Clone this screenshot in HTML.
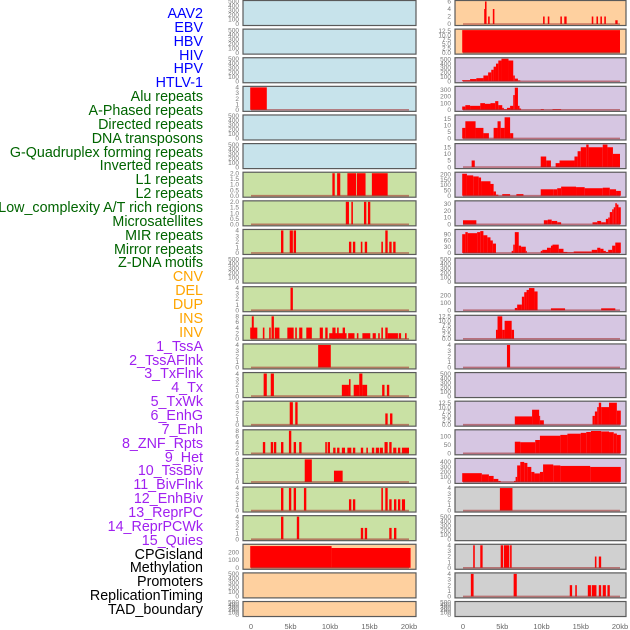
<!DOCTYPE html>
<html><head><meta charset="utf-8"><style>
body{margin:0;background:#fff;width:630px;height:630px;overflow:hidden;position:relative;font-family:"Liberation Sans",sans-serif}
.lab{position:absolute;right:427px;font-size:14.3px;line-height:14px;white-space:nowrap}
svg{position:absolute;left:0;top:0}
</style></head><body>
<div id="labels"></div>
<svg id="chart" width="630" height="630"></svg>
<script>
const labelNames=["AAV2","EBV","HBV","HIV","HPV","HTLV-1","Alu repeats","A-Phased repeats","Directed repeats","DNA transposons","G-Quadruplex forming repeats","Inverted repeats","L1 repeats","L2 repeats","Low_complexity A/T rich regions","Microsatellites","MIR repeats","Mirror repeats","Z-DNA motifs","CNV","DEL","DUP","INS","INV","1_TssA","2_TssAFlnk","3_TxFlnk","4_Tx","5_TxWk","6_EnhG","7_Enh","8_ZNF_Rpts","9_Het","10_TssBiv","11_BivFlnk","12_EnhBiv","13_ReprPC","14_ReprPCWk","15_Quies","CPGisland","Methylation","Promoters","ReplicationTiming","TAD_boundary"];
const labelGroups=[6,13,5,15,5];
const groupColors=["#0000ff","#006400","#ffa500","#a020f0","#000000"];
const B=[0,100,200,300,400,500], T4=[0,1,2,3,4], T2=["0.0","0.5","1.0","1.5","2.0"], T8=[0,2,4,6,8], T125=["0.0","2.5","5.0","7.5","10.0","12.5"];
const leftBg=["b","b","b","b","b","b","g","g","g","g","g","g","g","g","g","g","g","g","g","o","o","o"];
const rightBg=["o","o","p","p","p","p","p","p","p","p","p","p","p","p","p","p","p","y","y","y","y","y"];
const leftTicks=[B,B,B,T4,B,B,T2,T2,T4,B,T4,T8,T4,T4,T4,T8,T4,T4,T4,[0,100,200],B,B];
const leftMax=[500,500,500,4,500,500,2,2,4,500,4,8,4,4,4,8,4,4,4,290,500,500];
const leftBars=[[],[],[],[[-0.1,2.0,4]],[],[],
[[10.3,10.6,2],[10.9,11.3,2],[12.2,13.3,2],[13.4,14.5,2],[15.3,17.3,2]],
[[12.0,12.4,2],[12.7,12.9,2],[14.3,14.6,2],[14.8,15.1,2]],
[[3.8,4.1,4],[4.9,5.3,4],[5.4,5.7,4],[12.4,12.7,2],[12.9,13.2,2],[13.9,14.1,2],[14.4,14.7,2],[16.5,16.7,2],[17.0,17.3,4],[17.5,17.8,2],[18.0,18.3,2]],
[],
[[5.0,5.3,4]],
[[-0.1,0.8,4],[0.1,0.35,8],[1.5,1.7,4],[2.3,2.5,4],[2.6,2.9,8],[3.0,3.6,4],[4.6,5.4,4],[5.6,5.8,4],[6.1,6.5,4],[7.0,7.7,4],[8.7,9.1,4],[9.4,9.7,4],[9.9,12.1,2],[10.3,10.7,4],[10.9,11.1,4],[11.6,11.9,4],[12.3,13.1,2],[13.4,13.6,2],[14.1,15.1,2],[15.4,15.8,2],[16.1,16.3,2],[16.5,16.7,4],[17.0,17.3,4],[17.3,18.6,2],[18.7,19.0,2],[19.5,19.7,2]],
[[8.5,10.1,4]],
[[1.6,2.0,4],[2.5,2.9,4],[11.5,12.4,2],[12.4,12.6,3],[13.0,13.7,2],[13.7,14.1,4],[14.1,14.7,2],[16.6,16.9,2],[17.2,17.5,2]],
[[4.9,5.3,4],[5.6,5.9,4],[17.0,17.3,2],[17.6,17.9,2]],
[[1.5,1.8,4],[2.5,2.8,4],[2.9,3.2,4],[3.8,4.1,4],[4.8,5.1,8],[5.4,5.7,4],[6.1,6.4,4],[9.4,9.6,4],[9.7,10.0,4],[10.4,10.7,2],[10.9,11.2,2],[11.5,11.9,2],[12.2,12.7,2],[12.9,13.2,2],[13.9,14.2,2],[14.6,14.8,2],[15.3,15.6,2],[15.8,16.2,2],[16.3,16.7,2],[16.9,17.3,4],[17.5,17.8,4],[18.0,18.4,2],[18.6,18.9,2],[19.1,20.0,2]],
[[6.8,7.7,4],[10.5,11.6,2]],
[[3.8,4.1,4],[4.8,5.1,4],[5.4,5.7,4],[6.7,7.0,4],[12.4,12.7,2],[12.9,13.2,2],[16.5,16.7,4],[17.0,17.3,4],[17.5,17.8,2],[18.1,18.4,2],[18.6,18.9,2],[19.1,19.5,2]],
[[3.8,4.1,4],[5.8,6.1,4],[13.9,14.2,2],[14.4,14.7,2],[17.5,17.8,2],[18.1,18.4,2]],
[[-0.1,10.2,280],[10.2,20.2,255]],
[],[]];
const rightTicks=[[0,2,4,6],T125,B,[0,100,200,300],[0,5,10,15],[0,5,10,15],[0,50,100,150,200],[0,10,20,30],[0,30,60,90],B,[0,100,200],T125,T4,B,T125,[0,50,100],[0,100,200,300,400],T4,B,T4,T4,B];
const rightMax=[6,13,510,335,17,17,210,33,108,500,300,12.5,4,500,12.8,132,450,4,500,4,4,500];
const rightBars=[
[[2.7,2.85,4],[2.8,3.0,6],[3.2,3.4,2],[3.8,4.0,4],[10.2,10.4,2],[10.8,11.0,2],[12.4,12.6,2],[12.9,13.2,2],[16.4,16.6,2],[17.0,17.2,2],[17.5,17.7,2],[18.0,18.2,2],[19.4,19.7,1]],
[[-0.1,20.0,13]],
[[-0.1,0.9,25],[0.9,1.7,50],[1.7,2.6,70],[2.6,3.2,130],[3.2,3.6,200],[3.6,3.9,260],[3.9,4.2,330],[4.2,4.5,400],[4.5,4.9,470],[4.9,5.8,510],[5.8,6.4,470],[6.4,6.6,130],[6.6,7.0,60],[7.0,7.3,20]],
[[-0.1,0.3,50],[0.3,0.9,70],[0.9,2.2,60],[2.2,2.8,100],[2.8,3.5,90],[3.5,4.1,100],[4.1,4.5,130],[4.5,5.0,70],[5.0,5.2,30],[5.2,5.6,10],[5.6,6.0,30],[6.0,6.4,60],[6.4,6.6,220],[6.6,7.0,330],[7.0,7.2,60],[7.2,7.4,20],[9.9,10.3,10],[11.4,12.5,10]],
[[-0.1,0.3,8],[0.3,1.6,13],[1.6,2.6,8],[2.6,3.3,4],[3.9,4.4,8],[4.4,4.8,13],[4.8,5.3,8],[5.3,6.0,16],[6.0,6.4,4]],
[[1.1,1.5,5],[9.9,10.6,8],[10.6,11.2,5],[11.8,12.3,3],[12.3,14.2,5],[14.2,14.6,8],[14.6,15.0,12],[15.0,15.7,15],[15.7,16.0,17],[16.0,17.8,15],[17.8,18.4,17],[18.4,19.1,15],[19.1,20.0,10]],
[[-0.1,0.5,205],[0.5,1.3,190],[1.3,2.0,180],[2.0,2.3,170],[2.3,3.5,135],[3.5,3.9,110],[3.9,4.2,40],[4.2,4.5,10],[5.0,6.0,15],[6.8,7.7,15],[9.9,11.5,60],[11.5,12.0,60],[12.0,12.5,70],[12.5,14.4,85],[14.4,15.5,80],[15.5,17.8,70],[17.8,18.7,75],[18.7,19.5,60],[19.5,20.1,45]],
[[0,1.7,6],[10.3,10.8,6],[10.8,11.3,7],[11.3,12.0,5],[12.0,12.5,3],[16.5,17.1,3],[17.1,17.6,5],[17.6,18.2,3],[18.2,18.5,8],[18.5,18.7,10],[18.7,19.0,18],[19.0,19.2,22],[19.2,19.4,25],[19.4,19.6,31],[19.6,19.8,29],[19.8,20.1,25]],
[[-0.1,0.3,90],[0.3,0.6,100],[0.6,1.8,95],[1.8,2.2,100],[2.2,2.6,105],[2.6,3.1,85],[3.1,3.5,75],[3.5,3.8,60],[3.8,4.2,45],[6.2,6.4,10],[6.4,6.6,40],[6.6,7.1,100],[7.1,7.4,35],[7.4,8.0,30],[8.0,8.1,10],[9.9,10.1,10],[10.1,10.7,15],[10.7,11.2,25],[11.2,11.4,35],[11.4,12.2,40],[12.2,12.8,20],[12.8,13.3,5],[13.3,14.1,3],[14.1,16.4,7],[16.4,17.1,15],[17.1,17.5,25],[17.5,17.9,20],[17.9,18.2,10],[18.2,18.5,5],[18.5,19.0,15],[19.0,19.4,35],[19.4,20.1,50]],
[],
[[6.6,6.9,30],[6.9,7.5,75],[7.5,7.8,180],[7.8,8.1,240],[8.1,8.4,270],[8.4,9.1,295],[9.1,9.5,250],[11.2,13.0,25],[17.6,19.4,25]],
[[4.2,4.4,5],[4.4,5.0,12.5],[5.0,5.3,5],[5.3,6.2,10],[6.2,6.5,5]],
[[5.6,6.0,4]],
[],
[[6.6,8.8,4.7],[8.8,9.7,8.5],[9.7,9.8,5],[9.8,10.3,2.5],[16.5,16.8,5],[16.8,17.1,7.5],[17.1,17.3,10],[17.3,17.6,12.5],[17.6,18.6,10],[18.6,19.6,12.5],[19.6,20.1,8]],
[[6.6,7.3,68],[7.3,9.2,65],[9.2,9.8,78],[9.8,12.4,103],[12.4,13.3,108],[13.3,15.0,115],[15.0,15.7,120],[15.7,16.3,125],[16.3,17.6,131],[17.6,18.6,128],[18.6,19.2,124],[19.2,19.6,116],[19.6,20.1,108]],
[[-0.1,2.4,175],[2.4,3.3,150],[3.3,3.9,120],[3.9,4.5,60],[4.5,4.8,20],[6.5,6.7,20],[6.7,6.9,100],[6.9,7.3,330],[7.3,7.8,400],[7.8,8.2,380],[8.2,8.7,300],[8.7,9.1,200],[9.1,9.8,170],[9.8,10.2,200],[10.2,11.5,350],[11.5,12.4,330],[12.4,16.2,320],[16.2,20.1,300]],
[[4.7,6.3,4]],
[],
[[1.3,1.5,4],[2.2,2.5,4],[4.8,5.1,4],[5.2,5.9,4],[6.0,6.2,4],[16.8,17.0,2],[17.3,17.6,2]],
[[1.0,1.35,4],[6.45,6.85,4],[13.6,13.9,2],[14.3,14.5,2],[15.9,16.3,2],[16.4,17.0,2],[17.3,17.6,2],[17.8,18.2,2],[18.4,18.7,2]],
[]];
const xTicks=[0,5,10,15,20];
const xTickLabels=["0","5kb","10kb","15kb","20kb"];

const bgCol={b:"#c7e3eb",g:"#c9e1a4",o:"#fed09f",p:"#d6c6e2",y:"#d0d0d0"};
const NS="http://www.w3.org/2000/svg";
const svg=document.getElementById("chart");
function mk(tag,attrs,parent){const e=document.createElementNS(NS,tag);for(const k in attrs)e.setAttribute(k,attrs[k]);(parent||svg).appendChild(e);return e;}

const labDiv=document.getElementById("labels");
let li=0;
labelGroups.forEach((n,g)=>{for(let k=0;k<n;k++){const d=document.createElement("div");d.className="lab";d.textContent=labelNames[li];d.style.top=(15+li*13.86-8)+"px";d.style.color=groupColors[g];


labDiv.appendChild(d);li++;}});

const cols=[{x0:243,w:173,zero:251,s:7.9,tx:239,bars:leftBars,max:leftMax,ticks:leftTicks,bg:leftBg,side:"left"},
{x0:455,w:171,zero:463,s:7.85,tx:451,bars:rightBars,max:rightMax,ticks:rightTicks,bg:rightBg,side:"right"}];
cols.forEach(c=>{
 const xs=kb=>c.zero+kb*c.s;
 for(let i=0;i<22;i++){
  const top=0.5+28.62*i, h=(i==21?15:25);
  const g=mk("g",{});
  
  
  const r=mk("rect",{x:c.x0,y:top,width:c.w,height:h,fill:bgCol[c.bg[i]],stroke:"#5a5a5a","stroke-width":1.2},g);
  
  
  const M=c.max[i];
  const ys=v=>top+h-1.5-v/M*(h-2.5);
  c.ticks[i].forEach(t=>{const v=parseFloat(t);
   const tt=mk("text",{x:c.tx,y:ys(v)+2.2,"font-size":6.5,fill:"#777","text-anchor":"end","font-family":"Liberation Sans, sans-serif"},g);
   tt.textContent=String(t);
   
   });
  const bars=c.bars[i];
  bars.forEach(b=>{
   const x1=xs(b[0]),x2=xs(b[1]);
   const br=mk("rect",{x:x1,y:ys(b[2]),width:Math.max(x2-x1,1),height:ys(0)-ys(b[2]),fill:"#ff0000"},g);
   
   });
  if(bars.length){const bl=mk("line",{x1:xs(0),x2:xs(20),y1:ys(0),y2:ys(0),stroke:"rgba(160,40,40,0.55)","stroke-width":1.6},g);
   
   }
 }
 xTicks.forEach((t,k)=>{const tx=mk("text",{x:xs(t),y:629,"font-size":7.5,fill:"#666","text-anchor":"middle","font-family":"Liberation Sans, sans-serif"});
  tx.textContent=xTickLabels[k];
  
  });
});
</script>
</body></html>
